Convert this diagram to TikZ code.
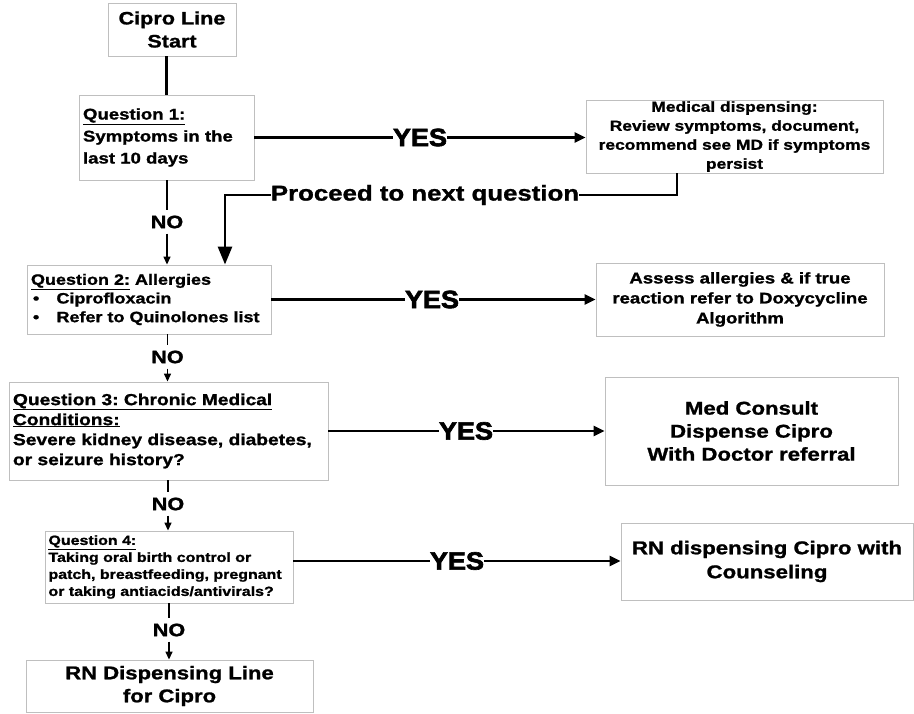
\documentclass[tikz,border=0pt]{standalone}
\usepackage{fontspec}
\setmainfont{Liberation Sans}[FakeStretch=1.2, BoldFeatures={FakeBold=1.2}]
\newfontfamily\heavyfont{Liberation Sans Bold}[FakeStretch=1.08, FakeBold=2.6]
\usetikzlibrary{arrows.meta}
\definecolor{boxgray}{gray}{0.75}
\newcommand\setfs[2]{\fontsize{#1pt}{#2pt}\selectfont\bfseries\frenchspacing}

\begin{document}
\begin{tikzpicture}[x=1pt,y={(0pt,-1pt)},
  box/.style={draw=boxgray, line width=0.9pt, inner xsep=4pt, inner ysep=0pt, fill=white},
  qbox/.style={box, align=left},
  rbox/.style={box, align=center},
  yeslabel/.style={inner sep=0pt, font=\fontsize{25pt}{25pt}\heavyfont},
  nolabel/.style={inner xsep=1pt, inner ysep=5pt, font=\setfs{18}{18}},
  flow/.style={line width=2.8pt},
  yesarrow/.style={line width=2.6pt, -{Triangle[length=11pt,width=10pt]}},
  noline/.style={line width=1.4pt},
  noarrow/.style={line width=1.4pt, -{Triangle[length=8pt,width=7pt]}},
  bigarrow/.style={line width=2.8pt, -{Triangle[length=18pt,width=14pt]}},
]
\fill[white] (0,0) rectangle (914,713);
\useasboundingbox (0,0) rectangle (914,713);

% boxes
\node[rbox, text width=120pt, minimum height=53pt, font=\setfs{18}{23}] (start) at (172,29.5) {Cipro Line\\Start};
\node[qbox, text width=167pt, minimum height=85pt, font=\setfs{15.5}{22}] (q1) at (166.5,137.5)
  {\underline{Question 1:}\\Symptoms in the\\last 10 days};
\node[rbox, text width=289pt, minimum height=73pt, font=\setfs{14.5}{19}] (med) at (734.5,136.5)
  {Medical dispensing:\\Review symptoms, document,\\recommend see MD if symptoms\\persist};
\node[qbox, text width=236pt, minimum height=69pt, font=\setfs{15}{18.7}] (q2) at (149,299.5)
  {\underline{Question 2:} Allergies\\
   \hspace*{2pt}\makebox[23.5pt][l]{\textbullet}Ciprofloxacin\\
   \hspace*{2pt}\makebox[23.5pt][l]{\textbullet}Refer to Quinolones list};
\node[rbox, text width=280pt, minimum height=73pt, font=\setfs{15.5}{20}] (assess) at (740,299.5)
  {Assess allergies \& if true\\reaction refer to Doxycycline\\Algorithm};
\node[qbox, text width=311pt, minimum height=98pt, font=\setfs{16}{20}] (q3) at (168.5,431)
  {\underline{Question 3: Chronic Medical}\\\underline{Conditions:}\\Severe kidney disease, diabetes,\\or seizure history?};
\node[rbox, text width=285pt, minimum height=108pt, font=\setfs{18.5}{23}] (consult) at (751.5,431)
  {Med Consult\\Dispense Cipro\\With Doctor referral};
\node[qbox, text width=241pt, inner xsep=3.5pt, minimum height=72pt, font=\setfs{13.3}{17}] (q4) at (169,567)
  {\underline{Question 4:}\\Taking oral birth control or\\patch, breastfeeding, pregnant\\or taking antiacids/antivirals?};
\node[rbox, text width=284pt, minimum height=77pt, font=\setfs{18.5}{24}] (rn) at (767,561.5)
  {RN dispensing Cipro with\\Counseling};
\node[rbox, text width=279pt, minimum height=52pt, font=\setfs{18.4}{23}] (rnline) at (169.5,686)
  {RN Dispensing Line\\for Cipro};

% start to question 1
\draw[flow] (start.south -| q1.north) -- (q1.north);

% YES branches
\node[yeslabel] (yes1) at (420,137.5) {YES};
\draw[flow] (q1.east |- yes1) -- (yes1.west);
\draw[yesarrow] (yes1.east) -- (med.west |- yes1);

\node[yeslabel] (yes2) at (432,299.5) {YES};
\draw[flow] (q2.east |- yes2) -- (yes2.west);
\draw[yesarrow] (yes2.east) -- (assess.west |- yes2);

\node[yeslabel] (yes3) at (466,431) {YES};
\draw[flow] (q3.east |- yes3) -- (yes3.west);
\draw[yesarrow] (yes3.east) -- (consult.west |- yes3);

\node[yeslabel] (yes4) at (457,561) {YES};
\draw[flow] (q4.east |- yes4) -- (yes4.west);
\draw[yesarrow] (yes4.east) -- (rn.west |- yes4);

% return path from medical dispensing
\node[inner sep=0pt, font=\setfs{21.5}{22}] (proceed) at (425,195) {Proceed to next question};
\coordinate (bendA) at (677,195);
\coordinate (bendB) at (225,195);
\draw[flow] (med.south -| bendA) -- (bendA) -- (proceed.east);
\draw[bigarrow] (proceed.west) -- (bendB) -- (bendB |- q2.north);

% NO branches
\node[nolabel] (no1) at (167,222) {NO};
\draw[noline] (q1.south -| no1) -- (no1.north);
\draw[noarrow] (no1.south) -- (no1.south |- q2.north);

\node[nolabel] (no2) at (167.5,357) {NO};
\draw[noline] (q2.south -| no2) -- (no2.north);
\draw[noarrow] (no2.south) -- (no2.south |- q3.north);

\node[nolabel] (no3) at (168,504) {NO};
\draw[noline] (q3.south -| no3) -- (no3.north);
\draw[noarrow] (no3.south) -- (no3.south |- q4.north);

\node[nolabel] (no4) at (169,630) {NO};
\draw[noline] (q4.south -| no4) -- (no4.north);
\draw[noarrow] (no4.south) -- (no4.south |- rnline.north);
\end{tikzpicture}
\end{document}
